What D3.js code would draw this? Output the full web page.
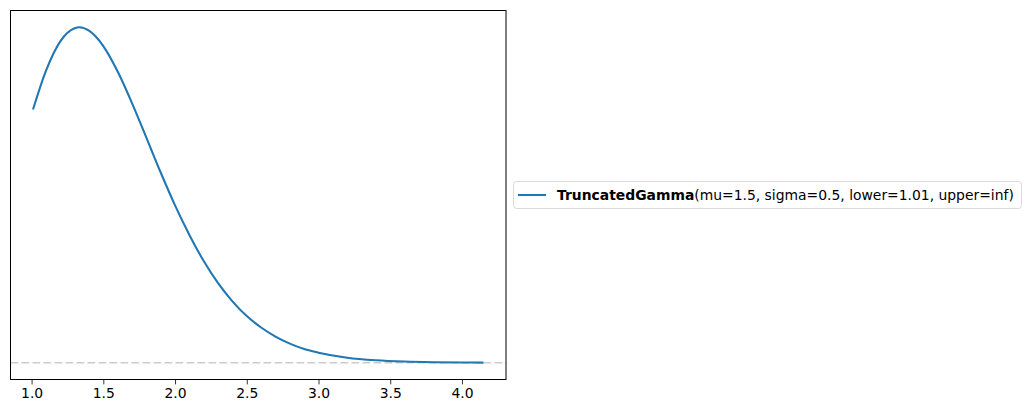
<!DOCTYPE html>
<html lang="en">
<head>
<meta charset="UTF-8">
<title>TruncatedGamma</title>
<script src="https://cdn.jsdelivr.net/npm/d3@7"></script>
<style>
    body { margin: 0; background: #fff; }
    svg { display: block; font-family: "DejaVu Sans", sans-serif; }
</style>
</head>
<body>
<div id="chart"></div>
<script>
"use strict";

// x positions and density
var xs = [1.01, 1.1, 1.2, 1.3, 1.333, 1.4, 1.5, 1.6, 1.7, 1.8, 1.9, 2.0, 2.1, 2.2, 2.3, 2.4,
          2.5, 2.6, 2.7, 2.8, 2.9, 3.0, 3.2, 3.4, 3.6, 3.8, 4.0, 4.15];
var density = [0.755, 0.870, 0.958, 0.997, 1.000, 0.990, 0.944, 0.868, 0.774, 0.671, 0.567, 0.469,
               0.381, 0.303, 0.237, 0.183, 0.139, 0.105, 0.078, 0.057, 0.041, 0.030, 0.015,
               0.0074, 0.0035, 0.0016, 0.0007, 0.0004];
var xTicks = [1.0, 1.5, 2.0, 2.5, 3.0, 3.5, 4.0];
var legendName = "TruncatedGamma";
var legendParams = "(mu=1.5, sigma=0.5, lower=1.01, upper=inf)";

var W = 1031, H = 413;
var box = { left: 10.5, right: 506, top: 10.5, bottom: 379.5 };

var svg = d3.select("#chart").append("svg")
    .attr("width", W)
    .attr("height", H);

var xMin = d3.min(xs), xMax = d3.max(xs), xPad = (xMax - xMin) * 0.05;
var yMax = d3.max(density), yPad = yMax * 0.05;

var x = d3.scaleLinear()
    .domain([xMin - xPad, xMax + xPad])
    .range([box.left, box.right]);

var y = d3.scaleLinear()
    .domain([-yPad, yMax + yPad])
    .range([box.bottom, box.top]);

// zero reference line
svg.append("line")
    .attr("x1", box.left)
    .attr("x2", box.right)
    .attr("y1", y(0))
    .attr("y2", y(0))
    .attr("stroke", "#cccccc")
    .attr("stroke-width", 1.5)
    .attr("stroke-dasharray", "7.7,3.3");

var line = d3.line()
    .x(function(d, i) { return x(xs[i]); })
    .y(function(d) { return y(d); })
    .curve(d3.curveMonotoneX);

svg.append("path")
    .datum(density)
    .attr("d", line)
    .attr("fill", "none")
    .attr("stroke", "#1f77b4")
    .attr("stroke-width", 2.08);

// frame
svg.append("rect")
    .attr("x", box.left)
    .attr("y", box.top)
    .attr("width", box.right - box.left)
    .attr("height", box.bottom - box.top)
    .attr("fill", "none")
    .attr("stroke", "#000")
    .attr("stroke-width", 1);

var xAxis = svg.append("g")
    .attr("transform", "translate(0," + box.bottom + ")")
    .call(d3.axisBottom(x).tickValues(xTicks).tickFormat(d3.format(".1f")).tickSizeOuter(0).tickSize(4.9).tickPadding(3.5));

xAxis.select(".domain").remove();
xAxis.selectAll("text")
    .attr("font-size", "13.9px")
    .attr("font-family", "DejaVu Sans, sans-serif")
    .attr("fill", "#000");
xAxis.selectAll("line").attr("stroke", "#000").attr("stroke-width", 0.8);

// legend
var legend = svg.append("g");

legend.append("rect")
    .attr("x", 513.5)
    .attr("y", 181.5)
    .attr("width", 508)
    .attr("height", 27)
    .attr("rx", 3)
    .attr("fill", "#fff")
    .attr("fill-opacity", 0.8)
    .attr("stroke", "#d9d9d9");

legend.append("line")
    .attr("x1", 518)
    .attr("x2", 546)
    .attr("y1", 195)
    .attr("y2", 195)
    .attr("stroke", "#1f77b4")
    .attr("stroke-width", 2.08);

var label = legend.append("text")
    .attr("x", 557)
    .attr("y", 200)
    .attr("font-size", "13.9px")
    .attr("fill", "#000");

label.append("tspan").attr("font-weight", "bold").text(legendName);
label.append("tspan").text(legendParams);
</script>
</body>
</html>
